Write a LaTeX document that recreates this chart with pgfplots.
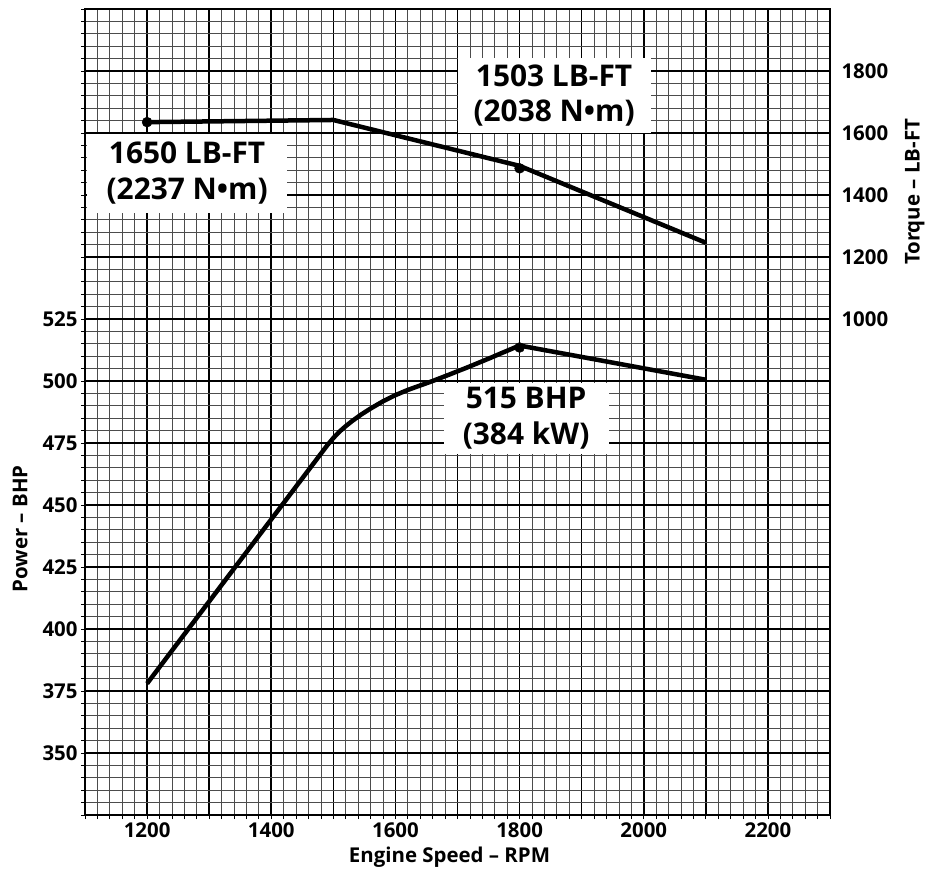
\documentclass[border=0pt]{standalone}
\usepackage{fontspec}
\setmainfont{Open Sans}
\usepackage{pgfplots}
\pgfplotsset{compat=1.18}

\begin{document}
\begin{tikzpicture}
\pgfplotsset{
  engine/.style={
    scale only axis, width=745bp, height=806bp,
    xmin=1100, xmax=2300,
    ticklabel style={font=\bfseries\fontsize{20.5}{24}\selectfont},
    label style={font=\bfseries\fontsize{20.5}{24}\selectfont},
  },
}
\tikzset{
  callout/.style={fill=white, inner sep=0pt, align=center,
    font=\bfseries\fontsize{30}{36}\selectfont},
}
% power axis, carries the grid
\begin{axis}[engine, name=pw,
  ymin=325, ymax=650,
  xtick={1100,1200,...,2300},
  xticklabels={,1200,,1400,,1600,,1800,,2000,,2200,},
  ytick={325,350,...,650},
  yticklabels={,350,375,400,425,450,475,500,525,,,,,},
  minor x tick num=4, minor y tick num=4,
  grid=both,
  major grid style={black, line width=1.6bp},
  minor grid style={black!70, line width=0.8bp},
  axis line style={black, line width=1.6bp},
  xtick pos=lower, ytick pos=left,
  tick align=outside, major tick length=4bp, minor tick length=4bp,
  tick style={black, line width=0.8bp},
  xlabel={Engine Speed -- RPM}, ylabel={Power -- BHP},
  xlabel style={xshift=-8bp, yshift=-3bp},
  ylabel style={at={(ticklabel cs:0.355,8bp)}},
]
\node[callout, minimum width=200bp, minimum height=79bp] at (axis cs:1264.5,583.7)
  {1650 LB-FT\\(2237 N•m)};
\node[callout, minimum width=193bp, minimum height=75bp] at (axis cs:1855.6,615.1)
  {1503 LB-FT\\(2038 N•m)};
\node[callout, minimum width=165bp, minimum height=71bp] at (axis cs:1810.5,484.9)
  {515 BHP\\(384 kW)};
% power curve
\addplot[black, line width=4.5bp, line join=round] coordinates {
  (1200,378) (1490,474) (1500,477) (1510,479.6) (1520,481.8) (1530,483.8)
  (1545,486.5) (1560,488.9) (1580,491.8) (1600,494.3) (1620,496.4)
  (1640,498.2) (1660,500) (1690,502.9) (1720,505.9) (1750,509)
  (1780,512.2) (1800,514.3) (2100,500.5)};
\addplot[only marks, mark=*, mark size=5bp, black] coordinates {(1800,513.5)};
\end{axis}
% torque axis on the right
\begin{axis}[engine,
  ymin=-600, ymax=2000,
  hide x axis, axis y line*=right,
  y axis line style={draw=none},
  ytick={1000,1200,1400,1600,1800},
  yticklabels={1000,1200,1400,1600,1800},
  yticklabel style={xshift=8bp},
  major tick length=0pt,
  ylabel={Torque -- LB-FT},
  ylabel style={at={(ticklabel cs:0.773,10bp)}},
]
\addplot[black, line width=4.5bp, line join=round] coordinates {
  (1200,1635) (1500,1642) (1800,1494) (2100,1246)};
\addplot[only marks, mark=*, mark size=5bp, black] coordinates {(1200,1635) (1800,1486)};
\end{axis}
\pgfresetboundingbox
\path ([shift={(-85bp,-57bp)}]pw.south west) rectangle ([shift={(99bp,9bp)}]pw.north east);
\end{tikzpicture}
\end{document}
